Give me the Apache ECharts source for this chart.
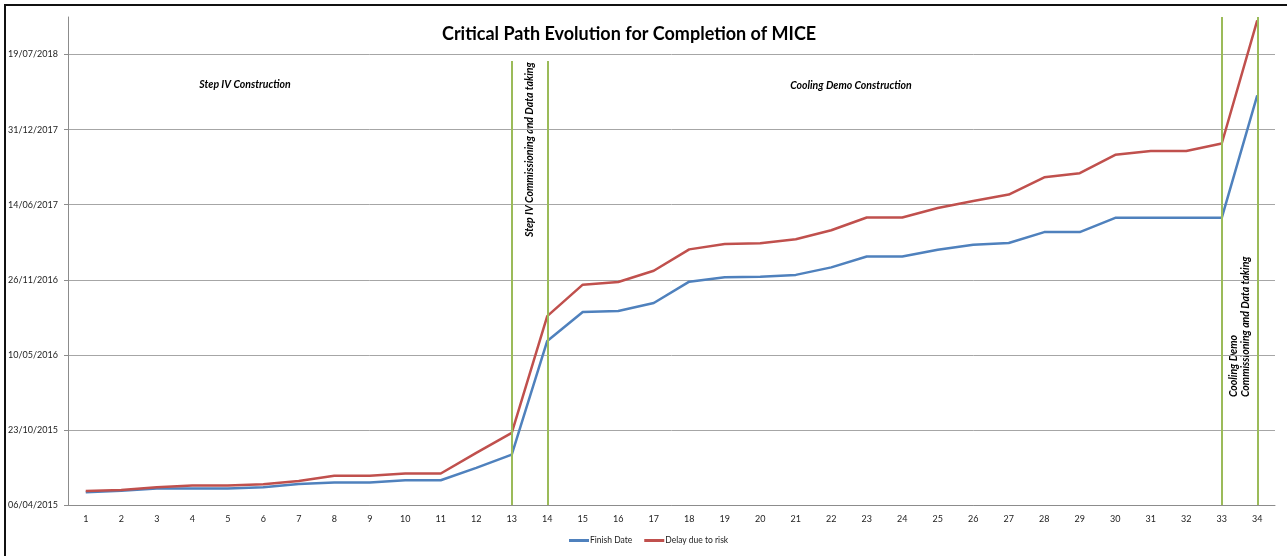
<!DOCTYPE html>
<html>
<head>
<meta charset="utf-8">
<script src="https://cdn.jsdelivr.net/npm/echarts@6/dist/echarts.min.js"></script>
<style>
  html, body { margin: 0; padding: 0; background: #fff; }
  #chart { width: 1287px; height: 556px; }
</style>
</head>
<body>
<div id="chart"></div>
<script>
// milestones (x) and the two date series
var steps = [];
for (var i = 1; i <= 34; i++) steps.push(String(i));

var finishDate = [
  '2015-05-10','2015-05-14','2015-05-20','2015-05-20','2015-05-20','2015-05-23','2015-06-01',
  '2015-06-05','2015-06-05','2015-06-11','2015-06-11','2015-07-14','2015-08-18','2016-06-16',
  '2016-09-01','2016-09-04','2016-09-25','2016-11-21','2016-12-03','2016-12-04','2016-12-09',
  '2016-12-29','2017-01-27','2017-01-27','2017-02-14','2017-02-27','2017-03-04','2017-04-02',
  '2017-04-02','2017-05-10','2017-05-10','2017-05-10','2017-05-10','2018-04-01'
];
var delayDueToRisk = [
  '2015-05-13','2015-05-16','2015-05-23','2015-05-28','2015-05-28','2015-05-31','2015-06-09',
  '2015-06-23','2015-06-23','2015-06-29','2015-06-29','2015-08-23','2015-10-15','2016-08-21',
  '2016-11-13','2016-11-20','2016-12-20','2017-02-15','2017-03-01','2017-03-03','2017-03-14',
  '2017-04-07','2017-05-11','2017-05-11','2017-06-05','2017-06-24','2017-07-11','2017-08-26',
  '2017-09-06','2017-10-25','2017-11-04','2017-11-04','2017-11-24','2018-10-18'
];

// phase boundaries (green lines): category and the date where the line stops at the top
var phaseAt = ['13', '14', '33', '34'];
var phaseTop = ['2018-07-02', '2018-07-02', '2018-11-05', '2018-11-05'];

// y axis is days counted from the first tick date, one tick every 200 days
var baseDate = '2015-04-06';
var yStep = 200;
var yMaxDays = 1300;

function toDays(s) {
  var p = s.split('-'), b = baseDate.split('-');
  return Math.round((Date.UTC(+p[0], p[1] - 1, +p[2]) - Date.UTC(+b[0], b[1] - 1, +b[2])) / 86400000);
}
function fmtDays(v) {
  var b = baseDate.split('-');
  var d = new Date(Date.UTC(+b[0], b[1] - 1, +b[2]) + v * 86400000);
  var dd = ('0' + d.getUTCDate()).slice(-2), mm = ('0' + (d.getUTCMonth() + 1)).slice(-2);
  return dd + '/' + mm + '/' + d.getUTCFullYear();
}

var font = 'Lato, "Open Sans", sans-serif';
var noteFont = 'italic bold 10.5px ' + font;
var green = '#9bbb59';

var lines = [];
for (var k = 0; k < phaseAt.length; k++) {
  lines.push([{ coord: [phaseAt[k], Math.min(toDays(phaseTop[k]), yMaxDays)] }, { coord: [phaseAt[k], 0] }]);
}

var chart = echarts.init(document.getElementById('chart'));
chart.setOption({
  animation: false,
  backgroundColor: '#fff',
  textStyle: { fontFamily: font },
  title: {
    text: 'Critical Path Evolution for Completion of MICE',
    left: 437, top: 20,
    textStyle: { fontFamily: font, fontSize: 18, fontWeight: 'bold', color: '#000' }
  },
  legend: {
    bottom: 6, left: 564,
    itemWidth: 20, itemHeight: 3, itemGap: 12,
    icon: 'rect',
    textStyle: { fontFamily: font, fontSize: 8.5, color: '#222', padding: [0, 0, 0, -4] },
    data: ['Finish Date', 'Delay due to risk']
  },
  grid: { left: 68, right: 12, top: 17, bottom: 51 },
  xAxis: {
    type: 'category',
    data: steps,
    boundaryGap: true,
    axisLine: { lineStyle: { color: '#8c8c8c', width: 1 } },
    axisTick: { length: 4, lineStyle: { color: '#8c8c8c' } },
    axisLabel: { fontFamily: font, fontSize: 9, color: '#222', margin: 10 }
  },
  yAxis: {
    type: 'value',
    min: 0, max: yMaxDays, interval: yStep,
    axisLine: { show: true, lineStyle: { color: '#8c8c8c', width: 1 } },
    axisTick: { show: true, length: 4, lineStyle: { color: '#8c8c8c' } },
    axisLabel: {
      fontFamily: font, fontSize: 9, color: '#222', margin: 10,
      showMaxLabel: false,
      formatter: function (v) { return v % yStep === 0 ? fmtDays(v) : ''; }
    },
    splitLine: { show: true, showMaxLine: false, lineStyle: { color: '#a6a6a6', width: 1 } }
  },
  series: [
    {
      name: 'Finish Date', type: 'line', symbol: 'none',
      data: finishDate.map(toDays),
      lineStyle: { color: '#4f81bd', width: 2.5 },
      itemStyle: { color: '#4f81bd' }
    },
    {
      name: 'Delay due to risk', type: 'line', symbol: 'none',
      data: delayDueToRisk.map(toDays),
      lineStyle: { color: '#c0504d', width: 2.5 },
      itemStyle: { color: '#c0504d' },
      markLine: {
        silent: true, symbol: 'none',
        label: { show: false },
        lineStyle: { color: green, width: 2, type: 'solid' },
        data: lines
      }
    }
  ],
  graphic: [
    { type: 'rect', silent: true,
      shape: { x: 5, y: 5, width: 1320, height: 600 },
      style: { fill: null, stroke: '#111', lineWidth: 2 } },
    { type: 'text', x: 245, y: 85, silent: true,
      style: { text: 'Step IV Construction', font: noteFont, fill: '#000', align: 'center', verticalAlign: 'middle' } },
    { type: 'text', x: 851, y: 86, silent: true,
      style: { text: 'Cooling Demo Construction', font: noteFont, fill: '#000', align: 'center', verticalAlign: 'middle' } },
    { type: 'text', x: 530, y: 237, rotation: Math.PI / 2, silent: true,
      style: { text: 'Step IV Commissioning and Data taking', font: noteFont, fill: '#000', align: 'left', verticalAlign: 'middle' } },
    { type: 'text', x: 1240, y: 397, rotation: Math.PI / 2, silent: true,
      style: { text: 'Cooling Demo\nCommissioning and Data taking', font: noteFont, lineHeight: 12, fill: '#000', align: 'left', verticalAlign: 'middle' } }
  ]
});
</script>
</body>
</html>
